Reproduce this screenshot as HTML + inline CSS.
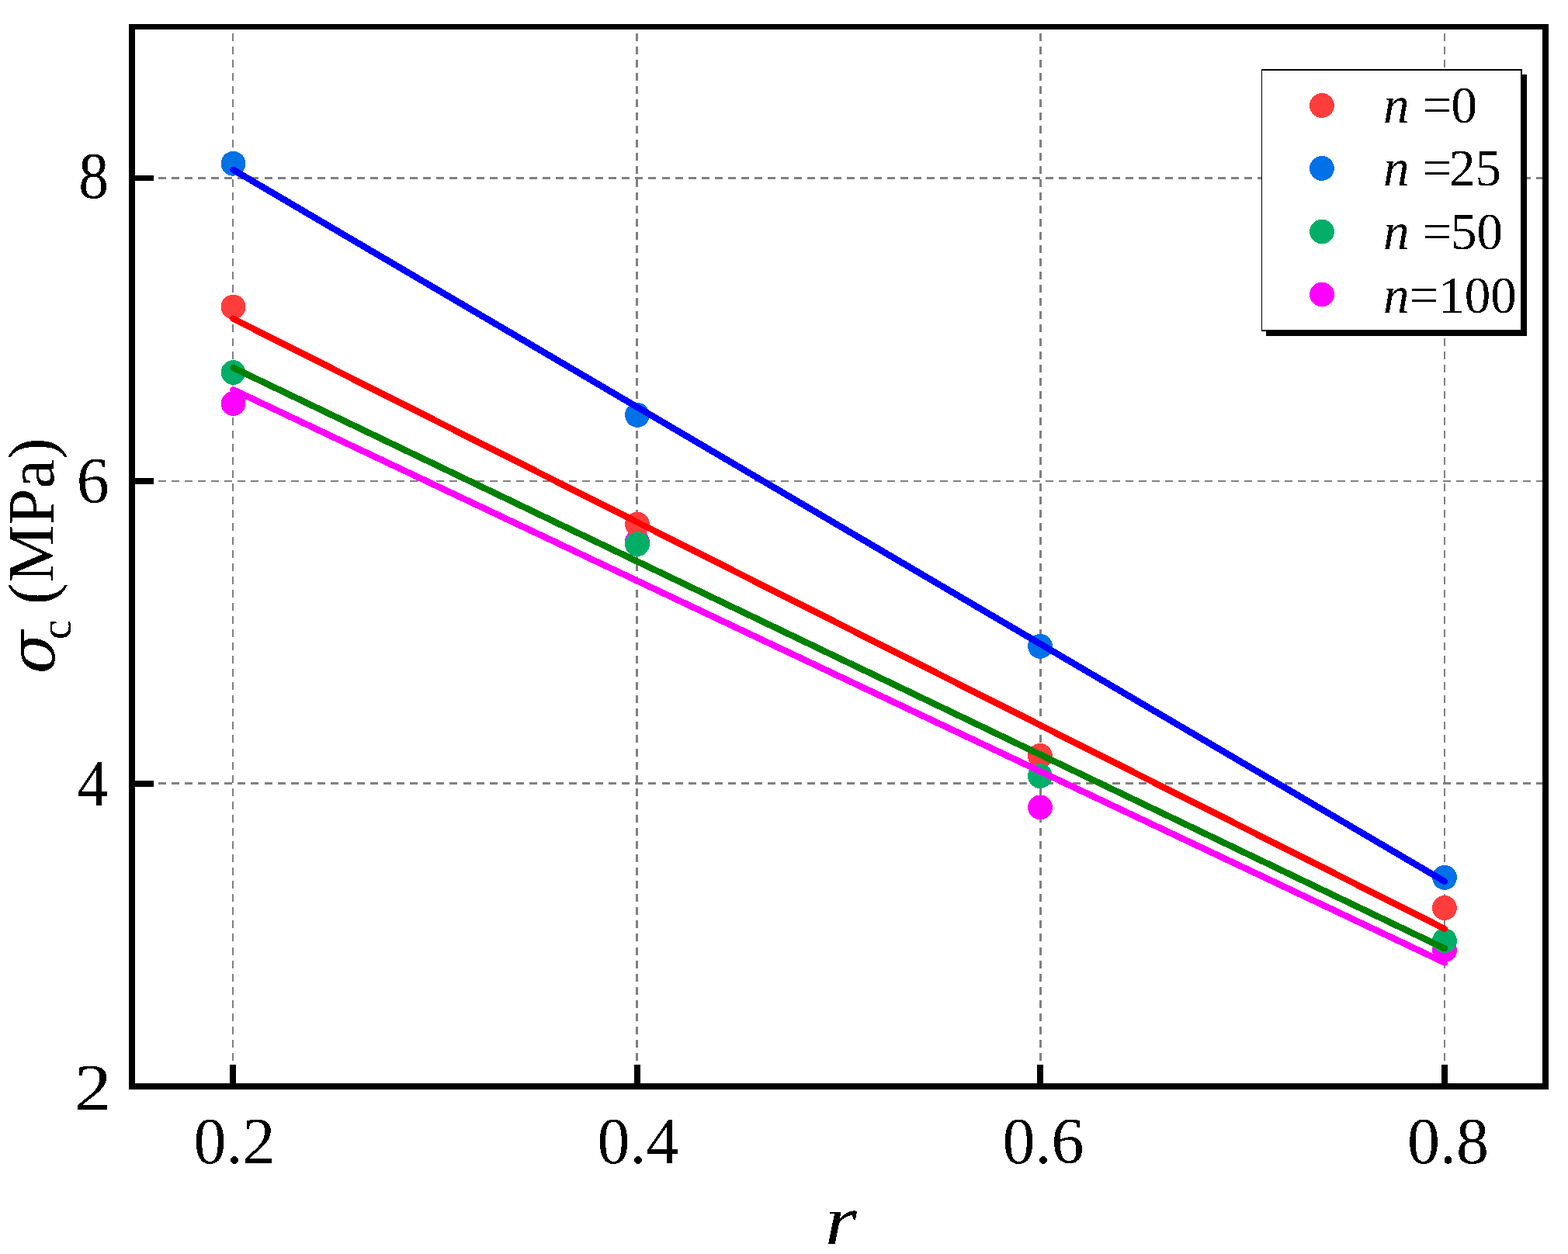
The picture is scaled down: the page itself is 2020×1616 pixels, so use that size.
<!DOCTYPE html>
<html lang="en"><head><meta charset="utf-8"><title>Compressive strength vs r</title>
<style>
html,body{margin:0;padding:0;background:#fff;}
body{width:2020px;height:1616px;overflow:hidden;}
svg{display:block;}
text{font-family:"Liberation Serif","Times New Roman",serif;fill:#000;}
.tick{font-size:84px;}
.leg{font-size:67px;}
.i{font-style:italic;}
.sig{font-family:"DejaVu Serif","Liberation Serif",serif;font-style:italic;}
</style></head><body>
<svg width="2020" height="1616" viewBox="0 0 2020 1616" role="img" aria-label="Compressive strength versus r for n = 0, 25, 50 and 100">
<rect x="0" y="0" width="2020" height="1616" fill="#fff"/>
<g stroke="#808080" fill="none" shape-rendering="crispEdges">
<line x1="300" y1="43" x2="300" y2="1372" stroke-width="2" stroke-dasharray="10 7.066"/>
<line x1="820.5" y1="43" x2="820.5" y2="1372" stroke-width="3" stroke-dasharray="10 7.066"/>
<line x1="1340.5" y1="43" x2="1340.5" y2="1372" stroke-width="3" stroke-dasharray="10 7.066"/>
<line x1="1861" y1="43" x2="1861" y2="1372" stroke-width="2" stroke-dasharray="10 7.066"/>
<line x1="204" y1="229.5" x2="1987" y2="229.5" stroke-width="3" stroke-dasharray="10 7.066"/>
<line x1="204" y1="620" x2="1987" y2="620" stroke-width="2" stroke-dasharray="10 7.066"/>
<line x1="204" y1="1009.5" x2="1987" y2="1009.5" stroke-width="3" stroke-dasharray="10 7.066"/>
</g>
<g stroke="none" shape-rendering="crispEdges">
<circle cx="300.5" cy="210.8" r="15.9" fill="#0071e6"/>
<circle cx="821.0" cy="534.9" r="15.9" fill="#0071e6"/>
<circle cx="1340.0" cy="832.9" r="15.9" fill="#0071e6"/>
<circle cx="1861.0" cy="1130.9" r="15.9" fill="#0071e6"/>
<circle cx="300.5" cy="520.1" r="15.9" fill="#ff00ff"/>
<circle cx="821.0" cy="698.0" r="15.9" fill="#ff00ff"/>
<circle cx="1340.0" cy="1040.4" r="15.9" fill="#ff00ff"/>
<circle cx="1861.0" cy="1224.2" r="15.9" fill="#ff00ff"/>
<circle cx="300.5" cy="395.6" r="15.9" fill="#ff3d3d"/>
<circle cx="821.0" cy="675.7" r="15.9" fill="#ff3d3d"/>
<circle cx="1340.0" cy="974.0" r="15.9" fill="#ff3d3d"/>
<circle cx="1861.0" cy="1170.0" r="15.9" fill="#ff3d3d"/>
<circle cx="300.5" cy="480.0" r="15.9" fill="#00ae68"/>
<circle cx="821.0" cy="701.1" r="15.9" fill="#00ae68"/>
<circle cx="1340.0" cy="1000.0" r="15.9" fill="#00ae68"/>
<circle cx="1861.0" cy="1212.1" r="15.9" fill="#00ae68"/>
</g>
<g fill="none" stroke-linecap="round" stroke-width="8.4" shape-rendering="crispEdges">
<line x1="300.5" y1="502.3" x2="1861.0" y2="1240.5" stroke="#ff00ff"/>
<line x1="300.5" y1="473.9" x2="1861.0" y2="1222.3" stroke="#008000"/>
<line x1="300.5" y1="410.7" x2="1861.0" y2="1197.0" stroke="#ff0000"/>
<line x1="300.5" y1="218.8" x2="1861.0" y2="1135.9" stroke="#0000ff"/>
</g>
<g fill="#000" shape-rendering="crispEdges">
<rect x="166" y="31" width="1829" height="7"/>
<rect x="166" y="1396" width="1829" height="8"/>
<rect x="166" y="31" width="8" height="1373"/>
<rect x="1987" y="31" width="8" height="1373"/>
<rect x="296" y="1372" width="8" height="24"/>
<rect x="817" y="1372" width="8" height="24"/>
<rect x="1336" y="1372" width="8" height="24"/>
<rect x="1857" y="1372" width="8" height="24"/>
<rect x="174" y="226" width="24" height="7"/>
<rect x="174" y="616" width="24" height="8"/>
<rect x="174" y="1006" width="24" height="8"/>
</g>
<defs><filter id="hard" filterUnits="userSpaceOnUse" x="0" y="0" width="2020" height="1616" color-interpolation-filters="sRGB"><feComponentTransfer><feFuncA type="discrete" tableValues="0 1"/></feComponentTransfer></filter></defs>
<g filter="url(#hard)">
<text class="tick" x="302" y="1499" text-anchor="middle">0.2</text>
<text class="tick" x="822" y="1499" text-anchor="middle">0.4</text>
<text class="tick" x="1344" y="1499" text-anchor="middle">0.6</text>
<text class="tick" x="1865.5" y="1499" text-anchor="middle">0.8</text>
<text class="tick" transform="translate(140.0,255) scale(0.925,1)" text-anchor="end">8</text>
<text class="tick" transform="translate(140.7,647.5) scale(1,1)" text-anchor="end">6</text>
<text class="tick" transform="translate(139.2,1038) scale(0.946,1)" text-anchor="end">4</text>
<text class="tick" transform="translate(143.6,1430) scale(1.127,1)" text-anchor="end">2</text>
<text class="i" transform="translate(1083.2,1603) scale(1.16,1)" text-anchor="middle" font-size="91">r</text>
<text transform="rotate(-90)" font-size="84" xml:space="preserve"><tspan class="sig" x="-868.6" y="69.5" font-size="82">σ</tspan><tspan x="-824.3" y="91" font-size="57">c</tspan><tspan x="-800" y="69"> (MPa)</tspan></text>
</g>
<g shape-rendering="crispEdges">
<rect x="1631" y="96" width="336" height="337" fill="#000"/>
<rect x="1625" y="89" width="336" height="338" fill="#000"/>
<rect x="1626" y="91" width="333" height="334" fill="#fff"/>
</g>
<circle cx="1703" cy="136.0" r="15.9" fill="#ff3d3d" shape-rendering="crispEdges"/>
<circle cx="1703" cy="217.0" r="15.9" fill="#0071e6" shape-rendering="crispEdges"/>
<circle cx="1703" cy="298.5" r="15.9" fill="#00ae68" shape-rendering="crispEdges"/>
<circle cx="1703" cy="379.5" r="15.9" fill="#ff00ff" shape-rendering="crispEdges"/>
<g filter="url(#hard)">
<text class="leg" x="1782" y="157.5" xml:space="preserve"><tspan class="i">n</tspan> =<tspan dx="-0.5">0</tspan></text>
<text class="leg" x="1782" y="239.2" xml:space="preserve"><tspan class="i">n</tspan> =<tspan dx="-3">25</tspan></text>
<text class="leg" x="1782" y="321.0" xml:space="preserve"><tspan class="i">n</tspan> =<tspan dx="-1">50</tspan></text>
<text class="leg" x="1782" y="402.7" xml:space="preserve"><tspan class="i">n</tspan>=<tspan dx="0">100</tspan></text>
</g>
</svg>
</body></html>
